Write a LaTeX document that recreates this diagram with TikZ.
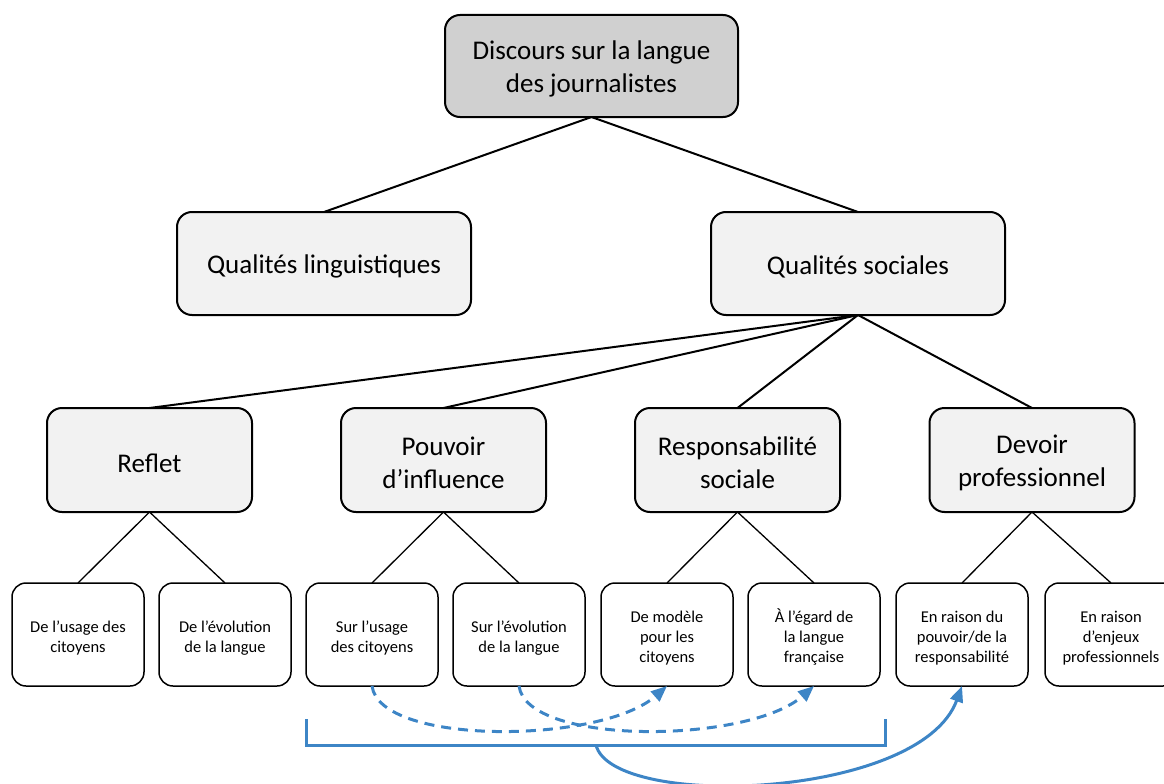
\documentclass[tikz,border=0pt]{standalone}
\usepackage{fontspec}
\setmainfont{Carlito}
\usetikzlibrary{arrows.meta,calc}
\definecolor{linkblue}{HTML}{3D85C6}
\definecolor{topfill}{HTML}{D0D0D0}
\definecolor{boxfill}{HTML}{F2F2F2}
% struts that lower the first line a little inside the boxes
\newcommand{\liftbig}{\rule{0pt}{25pt}}
\newcommand{\liftsmall}{\rule{0pt}{19pt}}
\begin{document}
\begin{tikzpicture}[x=1pt,y=-1pt,
  bigbox/.style={draw=black, line width=2pt, rounded corners=15pt, fill=boxfill,
    minimum width=205pt, minimum height=104pt, align=center,
    font=\fontsize{27}{33}\selectfont, inner sep=0pt, outer sep=0pt},
  topbox/.style={bigbox, fill=topfill, minimum width=293pt, minimum height=102pt},
  midbox/.style={bigbox, minimum width=294pt, minimum height=103pt},
  leafbox/.style={draw=black, line width=1.5pt, rounded corners=14pt, fill=white,
    minimum width=132pt, minimum height=103pt, align=center,
    font=\fontsize{16.5}{20.3}\selectfont, inner sep=0pt, outer sep=0pt},
  branch/.style={line width=2pt},
  twig/.style={line width=1.3pt},
  tip/.style={-{Triangle[length=16pt,width=13pt]}},
  dasharrow/.style={linkblue, line width=3pt, dash pattern=on 10pt off 7pt, tip},
  solidarrow/.style={linkblue, line width=3pt, tip},
  bracket/.style={linkblue, line width=3pt, line join=miter}
]
\useasboundingbox (0,0) rectangle (1164,784);
\clip (0,0) rectangle (1164,784);

% root and first level
\node[topbox] (root) at (591.5,66) {\liftbig Discours sur la langue\\des journalistes};
\node[midbox] (ling) at (324,263.5) {\liftbig Qualités linguistiques};
\node[midbox] (soc)  at (858,263.5) {\liftbig Qualités sociales};

% second level
\node[bigbox] (refl) at (149.5,460) {\liftbig Reflet};
\node[bigbox] (pouv) at (443.5,460) {\liftbig Pouvoir\\d’influence};
\node[bigbox] (resp) at (737.5,460) {\liftbig Responsabilité\\sociale};
\node[bigbox] (dev)  at (1032,460)  {\liftbig Devoir\\professionnel};

% leaves
\node[leafbox] (l1) at (78,634.5)   {\liftsmall De l’usage des\\citoyens};
\node[leafbox] (l2) at (225,634.5)  {\liftsmall De l’évolution\\de la langue};
\node[leafbox] (l3) at (372,634.5)  {\liftsmall Sur l’usage\\des citoyens};
\node[leafbox] (l4) at (519,634.5)  {\liftsmall Sur l’évolution\\de la langue};
\node[leafbox] (l5) at (667,634.5)  {\liftsmall De modèle\\pour les\\citoyens};
\node[leafbox] (l6) at (814,634.5)  {\liftsmall À l’égard de\\la langue\\française};
\node[leafbox] (l7) at (962,634.5)  {\liftsmall En raison du\\pouvoir/de la\\responsabilité};
\node[leafbox] (l8) at (1111,634.5) {\liftsmall En raison\\d’enjeux\\professionnels};

% tree connectors
\draw[branch] (root.south) -- (ling.north);
\draw[branch] (root.south) -- (soc.north);
\foreach \n in {refl,pouv,resp,dev}
  \draw[branch] (soc.south) -- (\n.north);
\draw[twig] (refl.south) -- (l1.north);
\draw[twig] (refl.south) -- (l2.north);
\draw[twig] (pouv.south) -- (l3.north);
\draw[twig] (pouv.south) -- (l4.north);
\draw[twig] (resp.south) -- (l5.north);
\draw[twig] (resp.south) -- (l6.north);
\draw[twig] (dev.south) -- (l7.north);
\draw[twig] (dev.south) -- (l8.north);

% dashed links
\draw[dasharrow] (l3.south) .. controls ($(l3.south)+(8,60)$) and ($(l5.south)+(-66,58)$) .. (l5.south);
\draw[dasharrow] (l4.south) .. controls ($(l4.south)+(8,60)$) and ($(l6.south)+(-66,58)$) .. (l6.south);

% bracket and its link
\coordinate (bl) at (306,719);
\coordinate (br) at (885,719);
\coordinate (bm) at (596,745);
\draw[bracket] (bl) |- (bm) -| (br);
\draw[solidarrow] (bm) .. controls (612,810) and (920,800) .. (l7.south);
\end{tikzpicture}
\end{document}
